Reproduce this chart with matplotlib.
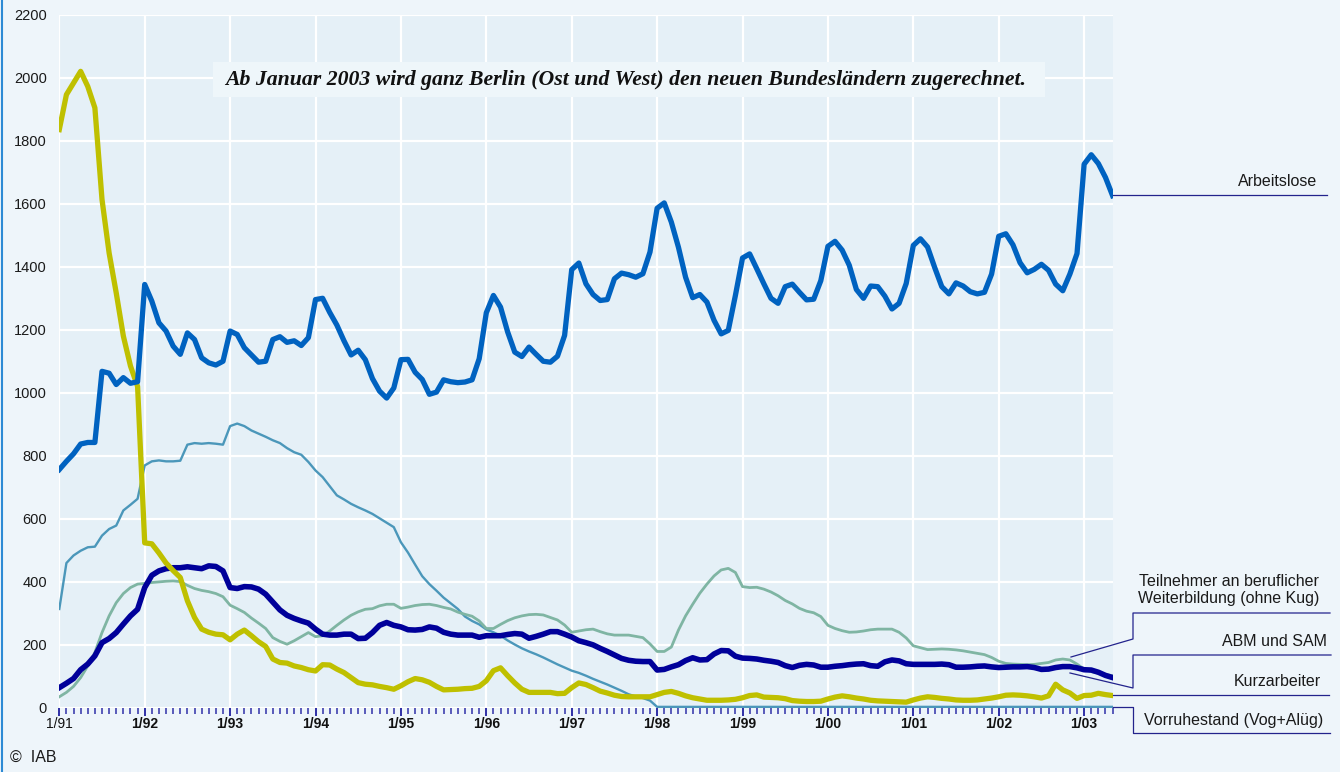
import matplotlib
matplotlib.use('Agg')
import matplotlib.pyplot as plt
from matplotlib.lines import Line2D
from matplotlib.patches import Rectangle

# monthly values in thousands, 1/91 .. 5/03
arbeitslose = [
    756, 782, 806, 837, 842, 842, 1068, 1062, 1026, 1048, 1030, 1035,
    1344, 1291, 1222, 1196, 1148, 1122, 1190, 1169, 1111, 1095, 1088, 1100,
    1196, 1185, 1143, 1120, 1097, 1100, 1169, 1178, 1160, 1165, 1150, 1175,
    1296, 1300, 1255, 1215, 1165, 1120, 1135, 1105, 1045, 1005, 983, 1015,
    1105, 1106, 1065, 1042, 995, 1002, 1041, 1035, 1032, 1034, 1041, 1108,
    1254, 1309, 1272, 1193, 1129, 1115, 1145, 1122, 1100, 1097, 1116, 1182,
    1391, 1412, 1346, 1312, 1293, 1296, 1362, 1380, 1375, 1367, 1378, 1447,
    1586, 1603, 1542, 1462, 1367, 1302, 1312, 1288, 1230, 1187, 1198, 1309,
    1428, 1441, 1394, 1346, 1300, 1284, 1337, 1345, 1319, 1295, 1297, 1356,
    1465, 1481, 1453, 1405, 1328, 1300, 1339, 1337, 1307, 1266, 1284, 1347,
    1468, 1489, 1463, 1398, 1337, 1314, 1349, 1339, 1321, 1314, 1319, 1377,
    1497, 1505, 1470, 1413, 1381, 1392, 1408, 1389, 1345, 1324, 1377, 1442,
    1726, 1756, 1728, 1684, 1626]

kurzarbeiter = [
    1836, 1947, 1984, 2021, 1973, 1905, 1614, 1444, 1317, 1180, 1085, 1020,
    523, 520, 491, 459, 435, 413, 339, 286, 249, 239, 233, 231,
    215, 233, 246, 228, 209, 194, 154, 143, 141, 132, 127, 120,
    116, 136, 135, 122, 111, 95, 79, 74, 72, 67, 63, 58,
    69, 82, 92, 88, 80, 67, 56, 57, 58, 60, 61, 67,
    85, 117, 126, 101, 78, 58, 48, 48, 48, 48, 44, 45,
    63, 78, 73, 63, 52, 46, 39, 35, 34, 34, 34, 34,
    41, 48, 51, 45, 37, 31, 27, 23, 23, 23, 24, 26,
    31, 38, 40, 33, 32, 31, 28, 22, 20, 19, 19, 20,
    27, 33, 37, 34, 30, 27, 23, 21, 20, 19, 18, 17,
    24, 30, 34, 32, 29, 27, 24, 23, 23, 24, 27, 30,
    34, 39, 40, 39, 37, 34, 30, 37, 74, 56, 46, 29,
    38, 39, 45, 41, 38]

abm_sam = [
    63, 77, 92, 120, 138, 164, 206, 219, 238, 265, 291, 312,
    381, 420, 434, 441, 444, 444, 447, 444, 441, 450, 448, 434,
    381, 378, 384, 383, 376, 360, 335, 310, 293, 283, 275, 268,
    249, 233, 230, 230, 233, 233, 219, 220, 238, 261, 270, 261,
    256, 247, 246, 248, 256, 252, 239, 233, 230, 230, 230, 223,
    228, 228, 228, 232, 235, 233, 220, 226, 233, 241, 241, 233,
    224, 212, 206, 199, 188, 178, 167, 156, 150, 147, 146, 146,
    119, 121, 129, 136, 149, 158, 151, 152, 170, 181, 180, 163,
    157, 156, 154, 150, 147, 143, 133, 127, 134, 137, 135, 128,
    128, 131, 133, 136, 138, 139, 133, 131, 145, 151, 148, 139,
    137, 137, 137, 137, 138, 136, 128, 128, 129, 131, 132, 129,
    127, 128, 129, 129, 130, 127, 121, 122, 127, 130, 130, 126,
    120, 119, 112, 102, 95]

weiterbildung = [
    34, 48, 67, 95, 132, 175, 238, 291, 333, 362, 381, 392,
    394, 397, 399, 401, 402, 400, 388, 378, 372, 368, 362, 352,
    325, 314, 302, 284, 268, 251, 222, 210, 201, 212, 225, 238,
    225, 228, 243, 261, 278, 293, 304, 312, 314, 323, 328, 328,
    315, 319, 324, 327, 328, 324, 318, 313, 303, 296, 290, 275,
    251, 251, 264, 276, 285, 291, 295, 296, 294, 286, 278, 262,
    239, 243, 247, 249, 241, 234, 230, 230, 230, 226, 222, 202,
    178, 178, 192, 246, 291, 328, 363, 392, 418, 437, 442, 429,
    384, 381, 382, 376, 367, 355, 340, 329, 315, 306, 301, 289,
    261, 251, 244, 239, 240, 243, 247, 249, 249, 249, 239, 221,
    196, 190, 184, 185, 186, 185, 183, 180, 176, 172, 168, 159,
    147, 140, 138, 137, 136, 137, 140, 143, 151, 154, 151, 138,
    122, 114, 109, 105, 101]

vorruhestand = [
    313, 459, 483, 498, 509, 511, 546, 567, 578, 626, 644, 663,
    769, 782, 785, 782, 782, 784, 835, 840, 838, 840, 838, 835,
    894, 902, 894, 880, 870, 860, 849, 840, 824, 811, 803, 780,
    753, 732, 703, 674, 661, 647, 636, 626, 615, 601, 587, 573,
    525, 492, 454, 417, 392, 371, 349, 331, 313, 289, 275, 264,
    248, 239, 228, 213, 200, 188, 178, 169, 159, 148, 137, 127,
    117, 110, 101, 91, 82, 73, 63, 53, 42, 35, 30, 22,
    2, 2, 2, 2, 2, 2, 2, 2, 2, 2, 2, 2,
    2, 2, 2, 2, 2, 2, 2, 2, 2, 2, 2, 2,
    2, 2, 2, 2, 2, 2, 2, 2, 2, 2, 2, 2,
    2, 2, 2, 2, 2, 2, 2, 2, 2, 2, 2, 2,
    2, 2, 2, 2, 2, 2, 2, 2, 2, 2, 2, 2,
    2, 2, 2, 2, 2]

months = list(range(len(arbeitslose)))
year_labels = ['1/91', '1/92', '1/93', '1/94', '1/95', '1/96', '1/97',
               '1/98', '1/99', '1/00', '1/01', '1/02', '1/03']

W, H = 1340, 772
plt.rcParams['font.family'] = ['Liberation Sans', 'DejaVu Sans']

fig = plt.figure(figsize=(W / 100, H / 100), dpi=100, facecolor='#eef5fa')
ax = fig.add_axes([59.3 / W, 1 - 707.5 / H, (1113.3 - 59.3) / W, (707.5 - 15) / H])
ax.set_facecolor('#e5f0f7')

ax.plot(months, vorruhestand, color='#4b97ba', lw=1.7, zorder=3)
ax.plot(months, weiterbildung, color='#7fb5a3', lw=2.0, zorder=4)
ax.plot(months, abm_sam, color='#00009a', lw=4.0, zorder=5)
ax.plot(months, kurzarbeiter, color='#bfc000', lw=3.8, zorder=6)
ax.plot(months, arbeitslose, color='#0062c0', lw=3.8, zorder=7)

ax.set_xlim(0, 148.1)
ax.set_ylim(0, 2200)
ax.set_yticks(range(0, 2201, 200))
ax.set_xticks(range(0, 149, 12))
ax.set_xticklabels(year_labels)
for i, t in enumerate(ax.get_xticklabels()):
    if i > 0:
        t.set_fontweight('bold')
ax.set_xticks(months, minor=True)
ax.grid(True, which='major', color='white', lw=1.6, zorder=1)
ax.set_axisbelow(True)
for s in ax.spines.values():
    s.set_visible(False)
ax.tick_params(axis='x', which='major', length=6, width=1.3, color='#2020a0',
               pad=1, labelsize=10, labelcolor='#111111')
ax.tick_params(axis='x', which='minor', length=4, width=1.1, color='#3030a8')
ax.tick_params(axis='y', length=0, pad=9, labelsize=10.5, labelcolor='#1a1a1a')

# note box
fig.add_artist(Rectangle((213 / W, 1 - 97 / H), 832 / W, 35 / H,
                         transform=fig.transFigure, fc='#eef6fa', ec='none', zorder=8))
fig.text(626 / W, 1 - 80 / H,
         'Ab Januar 2003 wird ganz Berlin (Ost und West) den neuen Bundesländern zugerechnet.',
         ha='center', va='center', family='Liberation Serif', weight='bold',
         style='italic', size=15.7, color='#111111', zorder=9)


def fig_line(xs, ys):
    fig.add_artist(Line2D([x / W for x in xs], [1 - y / H for y in ys],
                          transform=fig.transFigure, color='#23238c', lw=0.9))


# labels on the right
lab = dict(ha='right', va='center', size=11.5, color='#1a1a1a')
fig.text(1317 / W, 1 - 181 / H, 'Arbeitslose', **lab)
fig_line([1113, 1327], [195, 195])

fig.text(1229 / W, 1 - 590 / H, 'Teilnehmer an beruflicher\nWeiterbildung (ohne Kug)',
         ha='center', va='center', size=11.5, color='#1a1a1a', linespacing=1.25)
fig_line([1071, 1133, 1133, 1330], [657, 639, 613, 613])

fig.text(1327 / W, 1 - 642 / H, 'ABM und SAM', **lab)
fig_line([1070, 1133, 1133, 1331], [673, 688, 655, 655])

fig.text(1321 / W, 1 - 682 / H, 'Kurzarbeiter', **lab)
fig_line([1113, 1329], [695, 695])

fig.text(1323 / W, 1 - 720 / H, 'Vorruhestand (Vog+Alüg)', **lab)
fig_line([1113, 1133, 1133, 1330], [707, 707, 733, 733])

# left frame line and copyright
fig.add_artist(Line2D([1.5 / W, 1.5 / W], [0, 1], transform=fig.transFigure,
                      color='#2d8ad4', lw=1.5))
fig.text(10 / W, 1 - 757 / H, '©  IAB', ha='left', va='center', size=11.5, color='#1a1a1a')

fig.savefig('out.png', dpi=100, facecolor=fig.get_facecolor())
